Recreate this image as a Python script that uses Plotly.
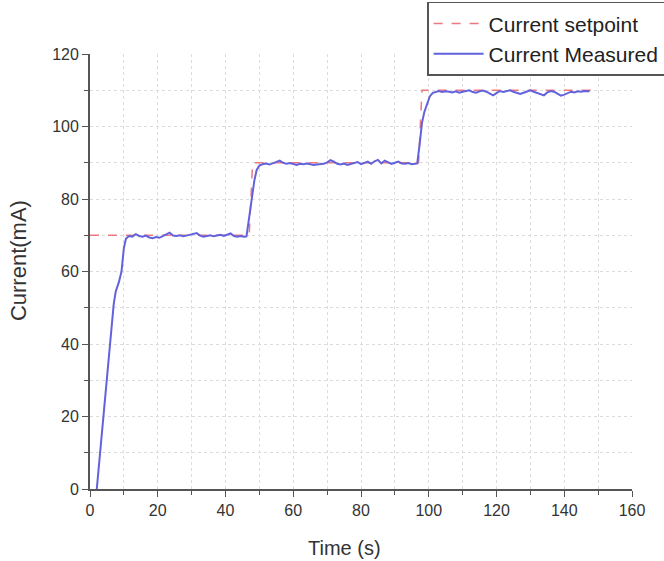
import plotly.graph_objects as go

# ---- data ----
setpoint_time = [0, 47, 48, 97, 98, 148]
setpoint_current = [70, 70, 90, 90, 110, 110]

measured_time = [
    2, 3, 4, 5, 6, 7, 7.6, 8.5, 9.3, 10.0, 10.6, 11.5,
    12.5, 13.5, 14.5, 15.5, 16.5, 17.5, 18.5, 19.5, 20.5, 21.5, 22.5, 23.5,
    24.5, 25.5, 26.5, 27.5, 28.5, 29.5, 30.5, 31.5, 32.5, 33.5, 34.5, 35.5,
    36.5, 37.5, 38.5, 39.5, 40.5, 41.5, 42.5, 43.5, 44.5, 45.5, 46.2,
    47.0, 47.7, 48.5, 49.2, 50.0, 51.0,
    52, 53, 54, 55, 56, 57, 58, 59, 60, 61, 62, 63, 64, 65, 66, 67, 68, 69,
    70, 71, 72, 73, 74, 75, 76, 77, 78, 79, 80, 81, 82, 83, 84, 85, 86, 87,
    88, 89, 90, 91, 92, 93, 94, 95, 96, 96.6,
    97.3, 98.0, 98.7, 99.5, 100.3, 101.2,
    102, 103, 104, 105, 106, 107, 108, 109, 110, 111, 112, 113, 114, 115,
    116, 117, 118, 119, 120, 121, 122, 123, 124, 125, 126, 127, 128, 129,
    130, 131, 132, 133, 134, 135, 136, 137, 138, 139, 140, 141, 142, 143,
    144, 145, 146, 147.5,
]
measured_current = [
    0, 10, 20, 30, 41, 51, 54.5, 57, 60, 66.5, 69, 69.8,
    69.6, 70.3, 69.8, 69.6, 69.9, 69.4, 69.2, 69.5, 69.3, 69.7, 70.1, 70.7,
    69.9, 69.8, 70.0, 69.7, 69.9, 70.1, 70.3, 70.6, 69.9, 69.6, 69.8, 70.0,
    69.7, 69.9, 70.1, 69.8, 70.2, 70.5, 69.8, 69.6, 69.8, 69.6, 69.7,
    75, 80, 85, 88, 89.2, 89.6,
    89.8, 89.5, 89.9, 90.3, 90.6, 90.0, 89.7, 89.9, 89.6, 89.4, 89.7, 89.6,
    89.8, 89.5, 89.4, 89.5, 89.6, 89.7,
    90.1, 90.7, 90.3, 89.7, 89.5, 89.8, 89.4, 89.6, 89.8, 90.2, 89.6, 89.9,
    90.3, 89.7, 90.4, 90.8, 89.8, 90.6,
    90.2, 89.7, 90.0, 90.3, 89.8, 89.7, 89.9, 89.6, 89.7, 89.8,
    95, 101, 104, 106.5, 108.3, 109.3,
    109.6, 109.8, 109.5, 109.7, 109.6, 109.4, 109.7, 109.3, 109.6, 109.8,
    110.0, 109.5, 109.3, 109.7,
    109.9, 109.6, 109.0, 108.6, 109.2, 109.8, 109.5, 109.7, 110.0, 109.6,
    109.2, 109.0, 109.3, 109.7,
    110.0, 109.6, 109.3, 108.9, 108.6, 109.4, 109.8, 109.6, 109.0, 108.5,
    108.8, 109.3, 109.6, 109.4,
    109.7, 109.6, 109.8, 109.7,
]

x_ticks = [0, 20, 40, 60, 80, 100, 120, 140, 160]
y_ticks = [0, 20, 40, 60, 80, 100, 120]

FONT = "Liberation Sans, Arial, sans-serif"
AXIS_COLOR = "#555555"
TEXT_COLOR = "#333333"
GRID_COLOR = "#dcdcdc"

fig = go.Figure()
fig.add_trace(go.Scatter(
    x=setpoint_time, y=setpoint_current, mode="lines",
    name="Current setpoint",
    line=dict(color="#ec7880", width=1.5, dash="dash"),
))
fig.add_trace(go.Scatter(
    x=measured_time, y=measured_current, mode="lines",
    name="Current Measured",
    line=dict(color="#6262dc", width=2),
))

axis_common = dict(
    showline=True, linecolor=AXIS_COLOR, linewidth=1.8,
    ticks="outside", ticklen=6, tickwidth=1.2, tickcolor=AXIS_COLOR,
    showgrid=False, zeroline=False, mirror=False,
    tickfont=dict(family=FONT, size=16, color=TEXT_COLOR),
    minor=dict(dtick=10, ticks="outside", ticklen=4, tickwidth=1,
               tickcolor=AXIS_COLOR, showgrid=True, gridcolor=GRID_COLOR,
               gridwidth=1, griddash="dot"),
)

fig.update_xaxes(range=[0, 160], tickmode="array", tickvals=x_ticks, **axis_common)
fig.update_yaxes(range=[0, 120], tickmode="array", tickvals=y_ticks, **axis_common)

fig.add_annotation(
    text="Time (s)", xref="paper", yref="paper", x=0.47, y=-0.136,
    xanchor="center", yanchor="middle", showarrow=False,
    font=dict(family=FONT, size=20, color=TEXT_COLOR),
)
fig.add_annotation(
    text="Current(mA)", xref="paper", yref="paper", x=-0.133, y=0.526,
    xanchor="center", yanchor="middle", showarrow=False, textangle=-90,
    font=dict(family=FONT, size=22, color=TEXT_COLOR),
)

fig.update_layout(
    width=664, height=561,
    margin=dict(l=90, r=32, t=54, b=72, autoexpand=False),
    paper_bgcolor="white", plot_bgcolor="white",
    showlegend=True,
    legend=dict(
        x=0.622, y=1.120, xanchor="left", yanchor="top",
        bgcolor="white", bordercolor="#555555", borderwidth=1.5,
        font=dict(family=FONT, size=21, color="#222222"),
        itemwidth=50, tracegroupgap=0,
    ),
)

fig.write_html("out.html")
